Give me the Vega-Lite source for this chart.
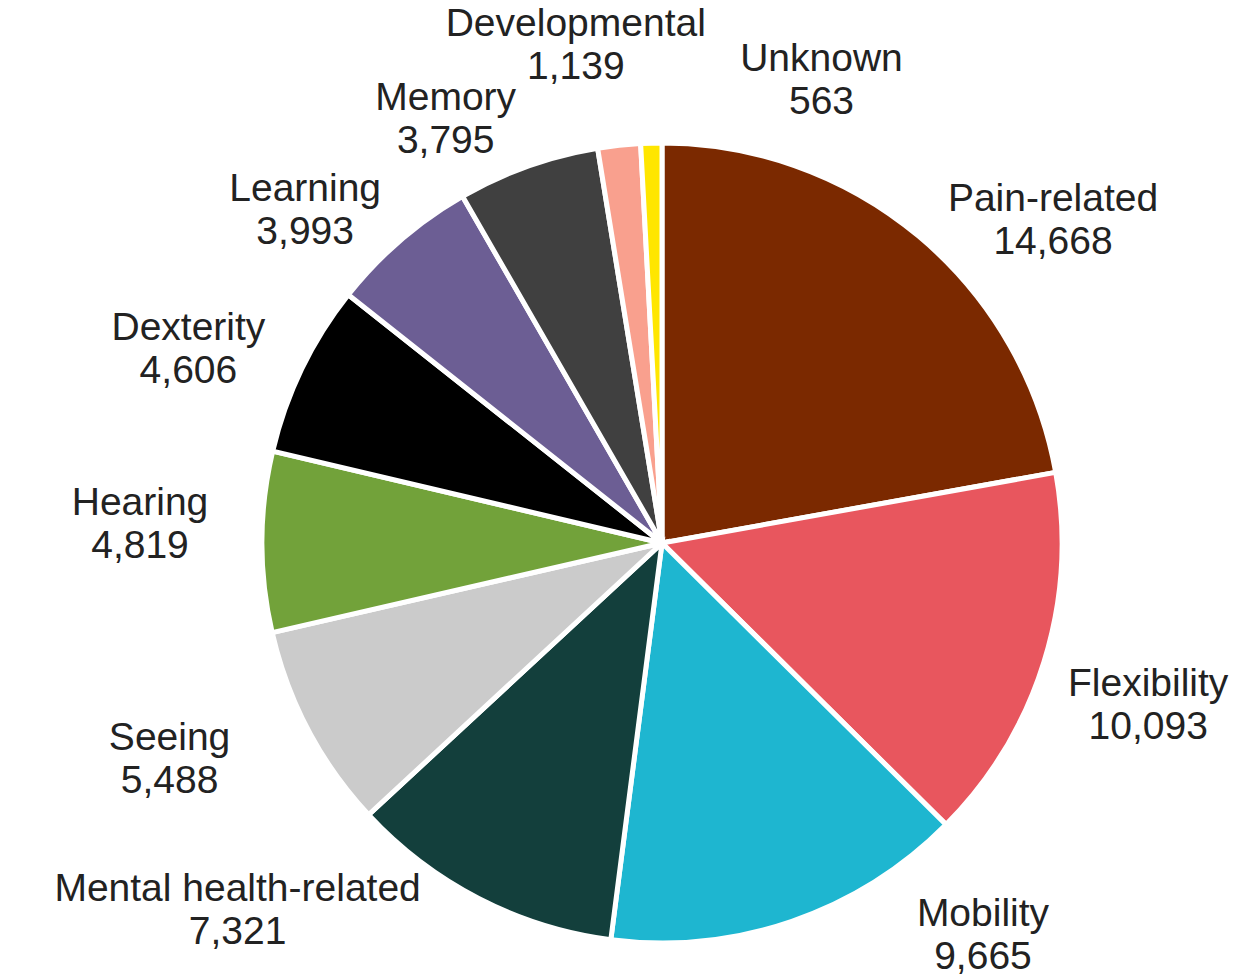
{
  "$schema": "https://vega.github.io/schema/vega-lite/v6.json",
  "width": 1188,
  "height": 874,
  "autosize": {"type": "none"},
  "padding": {"left": 68, "top": 106, "right": 0, "bottom": 0},
  "background": "white",
  "view": {"stroke": null},
  "data": {
    "values": [
      {"category": "Pain-related", "value": 14668, "order": 1},
      {"category": "Flexibility", "value": 10093, "order": 2},
      {"category": "Mobility", "value": 9665, "order": 3},
      {"category": "Mental health-related", "value": 7321, "order": 4},
      {"category": "Seeing", "value": 5488, "order": 5},
      {"category": "Hearing", "value": 4819, "order": 6},
      {"category": "Dexterity", "value": 4606, "order": 7},
      {"category": "Learning", "value": 3993, "order": 8},
      {"category": "Memory", "value": 3795, "order": 9},
      {"category": "Developmental", "value": 1139, "order": 10},
      {"category": "Unknown", "value": 563, "order": 11}
    ]
  },
  "transform": [
    {"calculate": "datum.category + '\\n' + format(datum.value, ',')", "as": "label"}
  ],
  "encoding": {
    "theta": {"field": "value", "type": "quantitative", "stack": true},
    "order": {"field": "order", "type": "quantitative"}
  },
  "layer": [
    {
      "mark": {"type": "arc", "outerRadius": 400, "stroke": "white", "strokeWidth": 5},
      "encoding": {
        "color": {
          "field": "category",
          "type": "nominal",
          "legend": null,
          "scale": {
            "domain": ["Pain-related", "Flexibility", "Mobility", "Mental health-related", "Seeing", "Hearing", "Dexterity", "Learning", "Memory", "Developmental", "Unknown"],
            "range": ["#7B2900", "#E8565E", "#1EB6D0", "#133F3C", "#CBCBCB", "#72A23A", "#000000", "#6C5E94", "#404040", "#F9A08E", "#FFE600"]
          }
        }
      }
    },
    {
      "mark": {"type": "text", "radius": 505, "dx": 67, "dy": 43, "font": "Liberation Sans", "fontSize": 39, "lineBreak": "\n", "lineHeight": 43, "fill": "#222222", "align": "center", "baseline": "middle"},
      "encoding": {"text": {"condition": {"test": "datum.category == 'Pain-related'", "field": "label"}, "value": ""}}
    },
    {
      "mark": {"type": "text", "radius": 505, "dx": 4, "dy": -9, "font": "Liberation Sans", "fontSize": 39, "lineBreak": "\n", "lineHeight": 43, "fill": "#222222", "align": "center", "baseline": "middle"},
      "encoding": {"text": {"condition": {"test": "datum.category == 'Flexibility'", "field": "label"}, "value": ""}}
    },
    {
      "mark": {"type": "text", "radius": 505, "dx": 157, "dy": -107, "font": "Liberation Sans", "fontSize": 39, "lineBreak": "\n", "lineHeight": 43, "fill": "#222222", "align": "center", "baseline": "middle"},
      "encoding": {"text": {"condition": {"test": "datum.category == 'Mobility'", "field": "label"}, "value": ""}}
    },
    {
      "mark": {"type": "text", "radius": 505, "dx": -193, "dy": -103, "font": "Liberation Sans", "fontSize": 39, "lineBreak": "\n", "lineHeight": 43, "fill": "#222222", "align": "center", "baseline": "middle"},
      "encoding": {"text": {"condition": {"test": "datum.category == 'Mental health-related'", "field": "label"}, "value": ""}}
    },
    {
      "mark": {"type": "text", "radius": 505, "dx": -46, "dy": -41, "font": "Liberation Sans", "fontSize": 39, "lineBreak": "\n", "lineHeight": 43, "fill": "#222222", "align": "center", "baseline": "middle"},
      "encoding": {"text": {"condition": {"test": "datum.category == 'Seeing'", "field": "label"}, "value": ""}}
    },
    {
      "mark": {"type": "text", "radius": 505, "dx": -17, "dy": -38, "font": "Liberation Sans", "fontSize": 39, "lineBreak": "\n", "lineHeight": 43, "fill": "#222222", "align": "center", "baseline": "middle"},
      "encoding": {"text": {"condition": {"test": "datum.category == 'Hearing'", "field": "label"}, "value": ""}}
    },
    {
      "mark": {"type": "text", "radius": 505, "dx": -19, "dy": 5, "font": "Liberation Sans", "fontSize": 39, "lineBreak": "\n", "lineHeight": 43, "fill": "#222222", "align": "center", "baseline": "middle"},
      "encoding": {"text": {"condition": {"test": "datum.category == 'Dexterity'", "field": "label"}, "value": ""}}
    },
    {
      "mark": {"type": "text", "radius": 505, "dx": -27, "dy": 28, "font": "Liberation Sans", "fontSize": 39, "lineBreak": "\n", "lineHeight": 43, "fill": "#222222", "align": "center", "baseline": "middle"},
      "encoding": {"text": {"condition": {"test": "datum.category == 'Learning'", "field": "label"}, "value": ""}}
    },
    {
      "mark": {"type": "text", "radius": 505, "dx": -47, "dy": 31, "font": "Liberation Sans", "fontSize": 39, "lineBreak": "\n", "lineHeight": 43, "fill": "#222222", "align": "center", "baseline": "middle"},
      "encoding": {"text": {"condition": {"test": "datum.category == 'Memory'", "field": "label"}, "value": ""}}
    },
    {
      "mark": {"type": "text", "radius": 505, "dx": -32, "dy": -17, "font": "Liberation Sans", "fontSize": 39, "lineBreak": "\n", "lineHeight": 43, "fill": "#222222", "align": "center", "baseline": "middle"},
      "encoding": {"text": {"condition": {"test": "datum.category == 'Developmental'", "field": "label"}, "value": ""}}
    },
    {
      "mark": {"type": "text", "radius": 505, "dx": 173, "dy": 21, "font": "Liberation Sans", "fontSize": 39, "lineBreak": "\n", "lineHeight": 43, "fill": "#222222", "align": "center", "baseline": "middle"},
      "encoding": {"text": {"condition": {"test": "datum.category == 'Unknown'", "field": "label"}, "value": ""}}
    }
  ]
}
